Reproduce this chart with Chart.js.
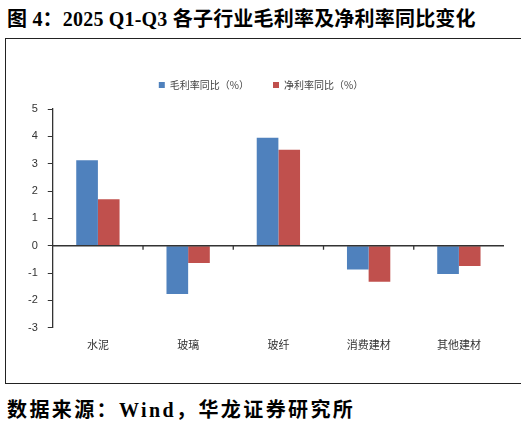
<!DOCTYPE html>
<html>
<head>
<meta charset="utf-8">
<script src="https://cdn.jsdelivr.net/npm/chart.js@4.4.0/dist/chart.umd.min.js"></script>
<style>
  body { margin: 0; background: #fff; width: 521px; height: 423px; position: relative; overflow: hidden; }
  .title { position: absolute; left: 7px; top: 3px; font: bold 20px "Liberation Serif", "Noto Sans CJK SC", serif; letter-spacing: 0.2px; color: #000; white-space: nowrap; }
  .box { position: absolute; left: 5px; top: 38px; width: 530px; height: 344px; border: 1.5px solid #222; border-right: none; }
  .wrap { position: absolute; left: 0; top: 38px; width: 521px; height: 345px; }
  .source { position: absolute; left: 7px; top: 394px; font: bold 20px "Liberation Serif", "Noto Sans CJK SC", serif; letter-spacing: 2.4px; color: #000; white-space: nowrap; }
</style>
</head>
<body>
<div class="title">图 4：2025 Q1-Q3 各子行业毛利率及净利率同比变化</div>
<div class="box"></div>
<div class="wrap"><canvas id="chart"></canvas></div>
<div class="source">数据来源：Wind，华龙证券研究所</div>
<script>
// ----- DATA -----
const categories = ["水泥", "玻璃", "玻纤", "消费建材", "其他建材"];
const grossMargin = [3.13, -1.76, 3.95, -0.87, -1.03];
const netMargin = [1.70, -0.63, 3.51, -1.32, -0.74];
const yTicks = [5, 4, 3, 2, 1, 0, -1, -2, -3];

// ----- EXTRA SPACE UNDER LEGEND -----
const legendGap = {
    id: "legendGap",
    beforeInit(chart) {
        const fit = chart.legend.fit;
        chart.legend.fit = function() {
            fit.bind(chart.legend)();
            this.height += 9;
        };
    }
};

// ----- ZERO LINE + CATEGORY TICKS -----
const zeroLine = {
    id: "zeroLine",
    afterDatasetsDraw(chart) {
        const ctx = chart.ctx;
        const x = chart.scales.x;
        const y = chart.scales.y;
        const y0 = y.getPixelForValue(0);
        ctx.save();
        ctx.strokeStyle = "#333";
        ctx.lineWidth = 1.3;
        ctx.beginPath();
        ctx.moveTo(chart.chartArea.left, y0);
        ctx.lineTo(chart.chartArea.right, y0);
        for (let i = 0; i < categories.length - 1; i++) {
            const bx = (x.getPixelForValue(i) + x.getPixelForValue(i + 1)) / 2;
            ctx.moveTo(bx, y0);
            ctx.lineTo(bx, y0 + 4);
        }
        ctx.stroke();
        ctx.restore();
    }
};

const ctx = document.getElementById("chart").getContext("2d");

new Chart(ctx, {
    type: "bar",
    data: {
        labels: categories,
        datasets: [{
            label: "毛利率同比（%）",
            data: grossMargin,
            backgroundColor: "#4F81BD"
        }, {
            label: "净利率同比（%）",
            data: netMargin,
            backgroundColor: "#C0504D"
        }]
    },
    options: {
        responsive: true,
        maintainAspectRatio: false,
        animation: false,
        layout: { padding: { top: 18, left: 18, right: 17, bottom: 22 } },
        datasets: { bar: { categoryPercentage: 0.48, barPercentage: 1 } },
        plugins: {
            legend: {
                position: "top",
                labels: {
                    boxWidth: 6,
                    boxHeight: 6,
                    padding: 24,
                    color: "#444",
                    font: { family: "'Noto Sans CJK SC', sans-serif", size: 10 }
                }
            },
            tooltip: { enabled: false }
        },
        scales: {
            x: {
                grid: { display: false, drawTicks: false },
                border: { display: false },
                ticks: {
                    padding: 10,
                    color: "#333",
                    font: { family: "'Noto Sans CJK SC', sans-serif", size: 11 }
                }
            },
            y: {
                min: -3,
                max: 5,
                afterBuildTicks: axis => { axis.ticks = yTicks.map(v => ({ value: v })); },
                grid: {
                    color: "transparent",
                    tickColor: "#333",
                    tickLength: 5
                },
                border: { display: true, color: "#333", width: 1.3 },
                ticks: {
                    padding: 10,
                    color: "#333",
                    font: { family: "'Liberation Sans', Arial, sans-serif", size: 11 }
                }
            }
        }
    },
    plugins: [legendGap, zeroLine]
});
</script>
</body>
</html>
